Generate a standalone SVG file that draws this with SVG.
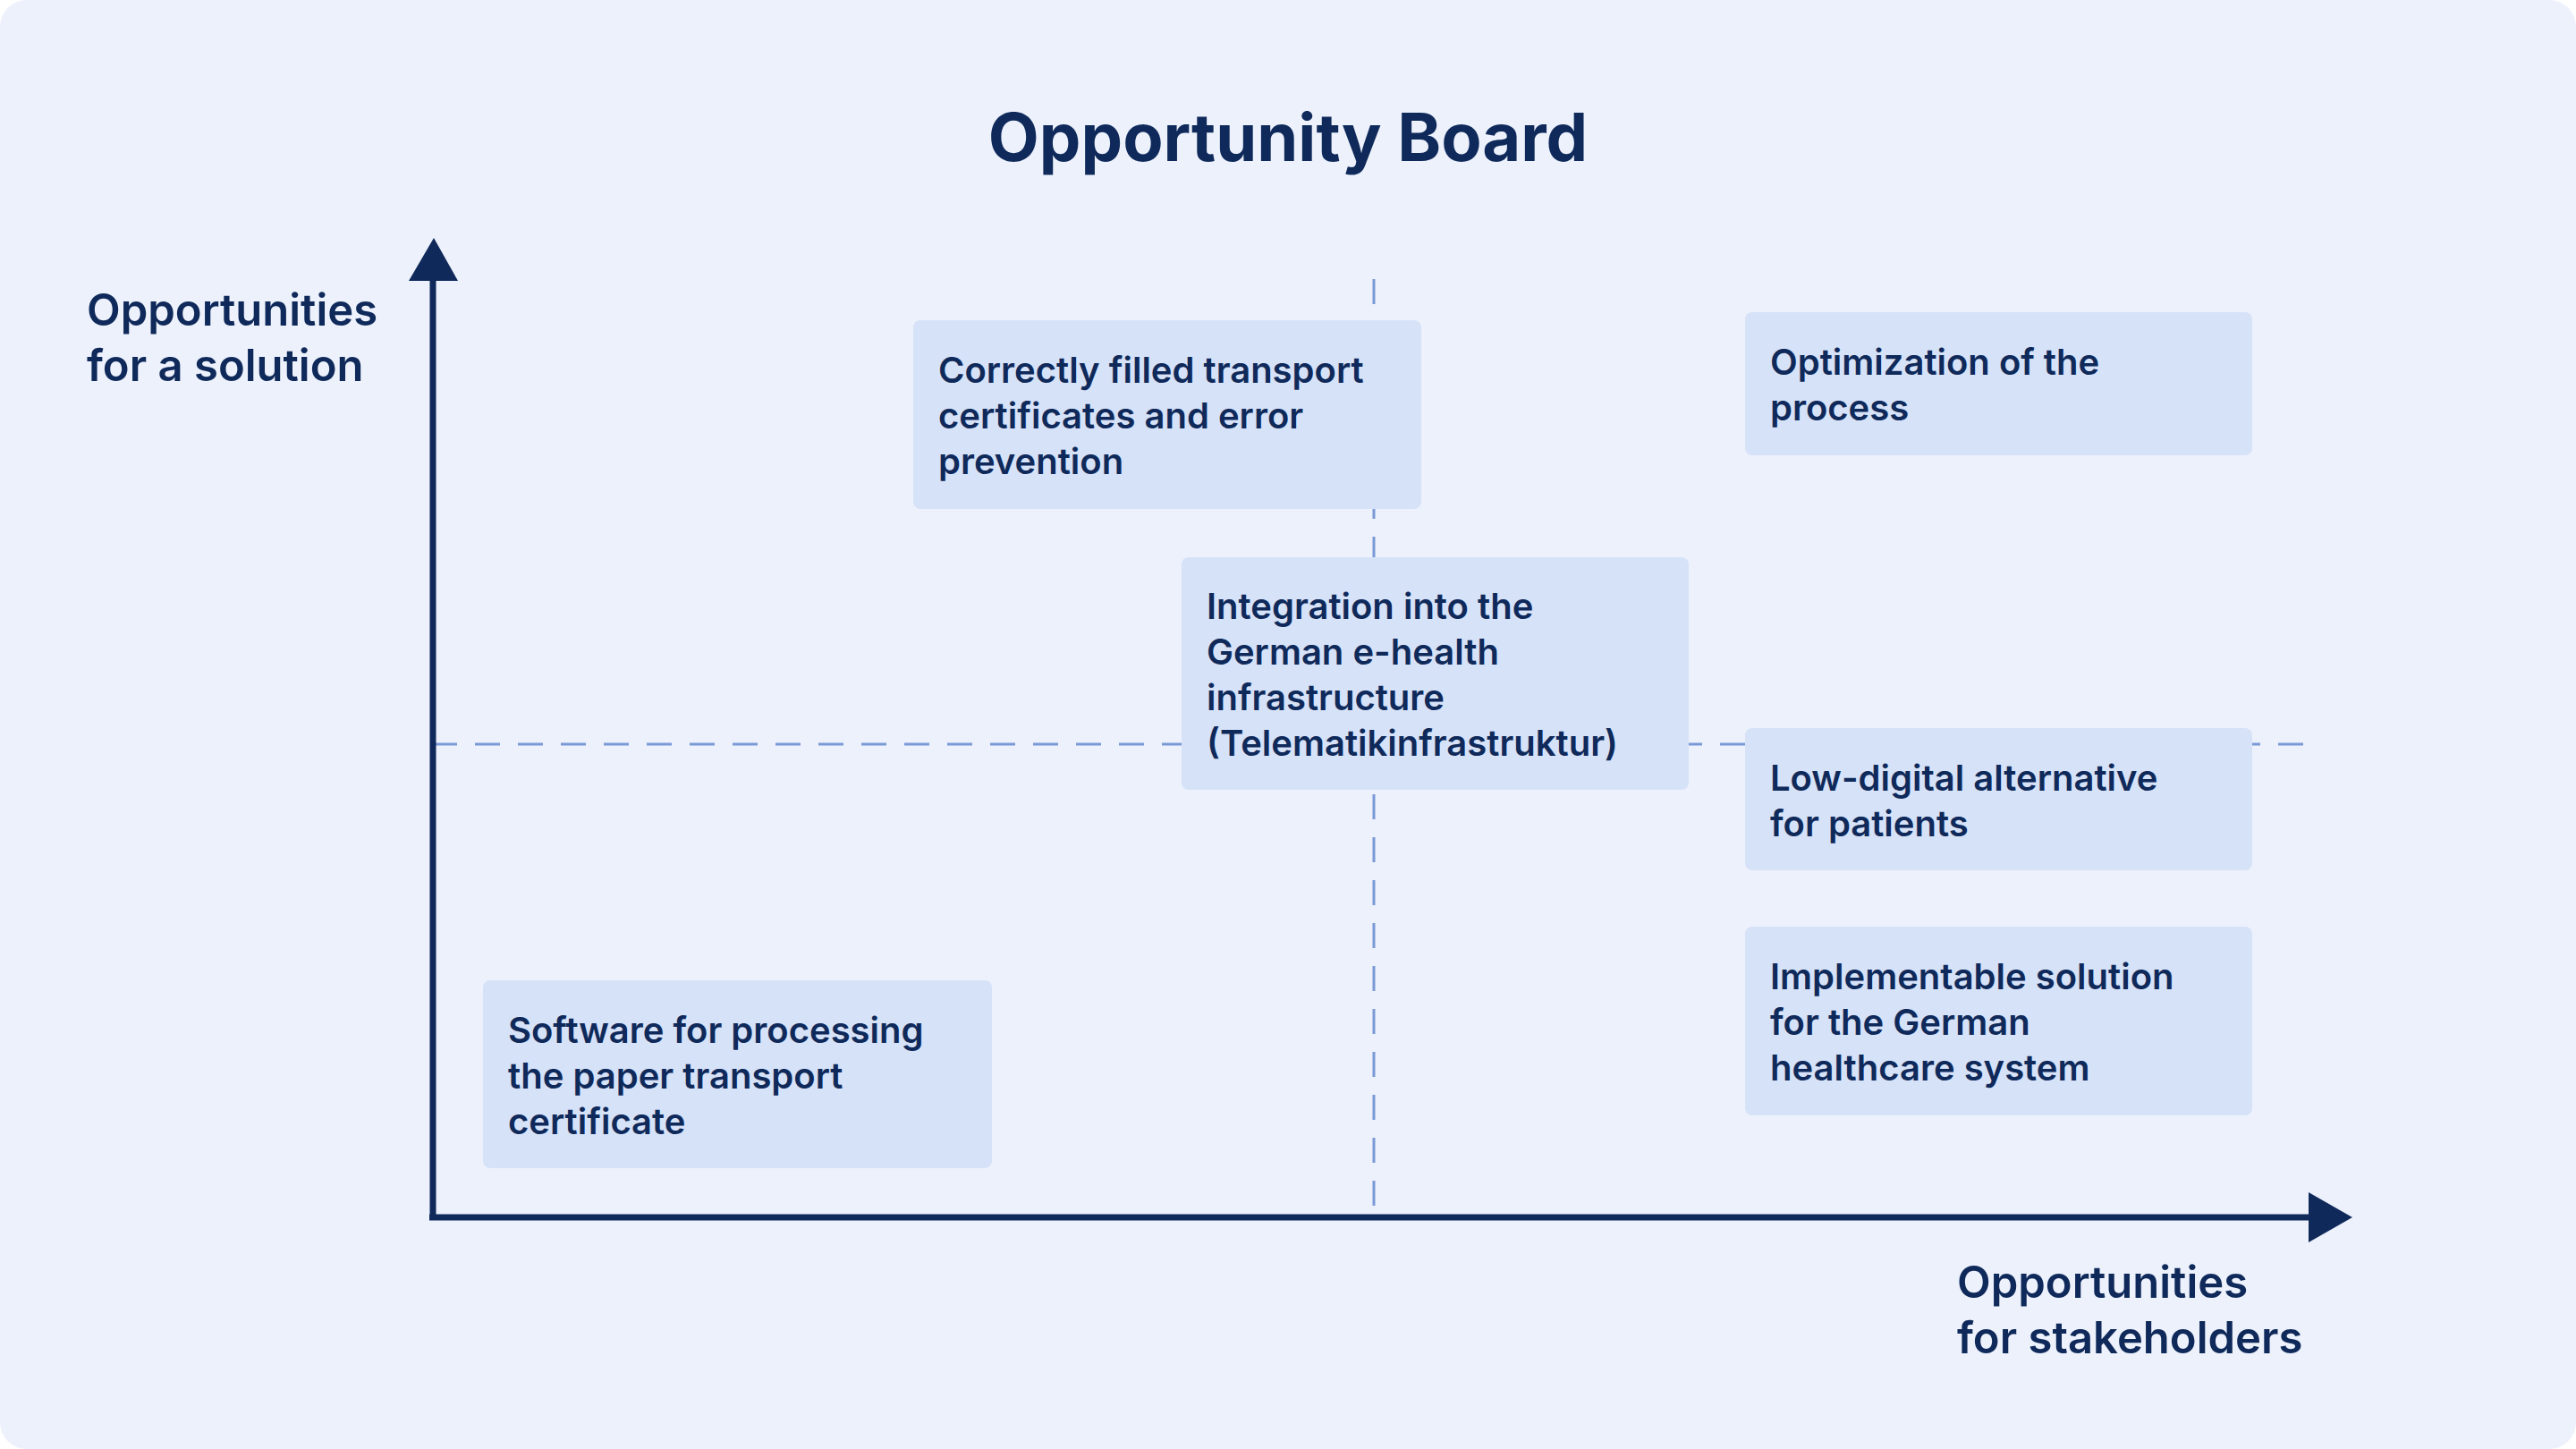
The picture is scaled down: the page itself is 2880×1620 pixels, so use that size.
<svg xmlns="http://www.w3.org/2000/svg" width="2880" height="1620" viewBox="0 0 2880 1620">
<style>
.t{font-family:Inter,"Noto Sans",sans-serif;font-weight:600;fill:#0f2a5a;font-size:40px}
.ax{font-family:Inter,"Noto Sans",sans-serif;font-weight:600;fill:#0f2a5a;font-size:49px}
.box{fill:#d6e2f8}
</style>
<rect x="0" y="0" width="2880" height="1620" rx="30" fill="#edf1fc"/>
<text x="1440" y="180" text-anchor="middle" style="font-family:Inter,'Noto Sans',sans-serif;font-weight:700;fill:#0f2a5a;font-size:74px">Opportunity Board</text>
<g id="connectors">
<line x1="1536" y1="312" x2="1536" y2="1361" stroke="#7a9ad6" stroke-width="3" stroke-dasharray="28,20"/>
<line x1="483" y1="832" x2="2586" y2="832" stroke="#7a9ad6" stroke-width="3" stroke-dasharray="28,20"/>
<line x1="484" y1="300" x2="484" y2="1361" stroke="#0f2a5a" stroke-width="7"/>
<line x1="480" y1="1361" x2="2590" y2="1361" stroke="#0f2a5a" stroke-width="7"/>
<polygon points="457,314 512,314 485,266" fill="#0f2a5a"/>
<polygon points="2581,1333 2581,1389 2630,1361" fill="#0f2a5a"/>
</g>
<g id="label-y"><text class="ax" x="97" y="364">Opportunities</text><text class="ax" x="97" y="426">for a solution</text></g>
<g id="label-x"><text class="ax" x="2188" y="1451">Opportunities</text><text class="ax" x="2188" y="1513">for stakeholders</text></g>
<g id="n1"><rect class="box" x="1021" y="358" width="568" height="211" rx="8"/><text class="t" x="1049" y="428">Correctly filled transport</text><text class="t" x="1049" y="479">certificates and error</text><text class="t" x="1049" y="530">prevention</text></g>
<g id="n2"><rect class="box" x="1951" y="349" width="567" height="160" rx="8"/><text class="t" x="1979" y="419">Optimization of the</text><text class="t" x="1979" y="470">process</text></g>
<g id="n3"><rect class="box" x="1321" y="623" width="567" height="260" rx="8"/><text class="t" x="1349" y="692">Integration into the</text><text class="t" x="1349" y="743">German e-health</text><text class="t" x="1349" y="794">infrastructure</text><text class="t" x="1349" y="845">(Telematikinfrastruktur)</text></g>
<g id="n4"><rect class="box" x="1951" y="814" width="567" height="159" rx="8"/><text class="t" x="1979" y="884">Low-digital alternative</text><text class="t" x="1979" y="935">for patients</text></g>
<g id="n5"><rect class="box" x="1951" y="1036" width="567" height="211" rx="8"/><text class="t" x="1979" y="1106">Implementable solution</text><text class="t" x="1979" y="1157">for the German</text><text class="t" x="1979" y="1208">healthcare system</text></g>
<g id="n6"><rect class="box" x="540" y="1096" width="569" height="210" rx="8"/><text class="t" x="568" y="1166">Software for processing</text><text class="t" x="568" y="1217">the paper transport</text><text class="t" x="568" y="1268">certificate</text></g>
</svg>
